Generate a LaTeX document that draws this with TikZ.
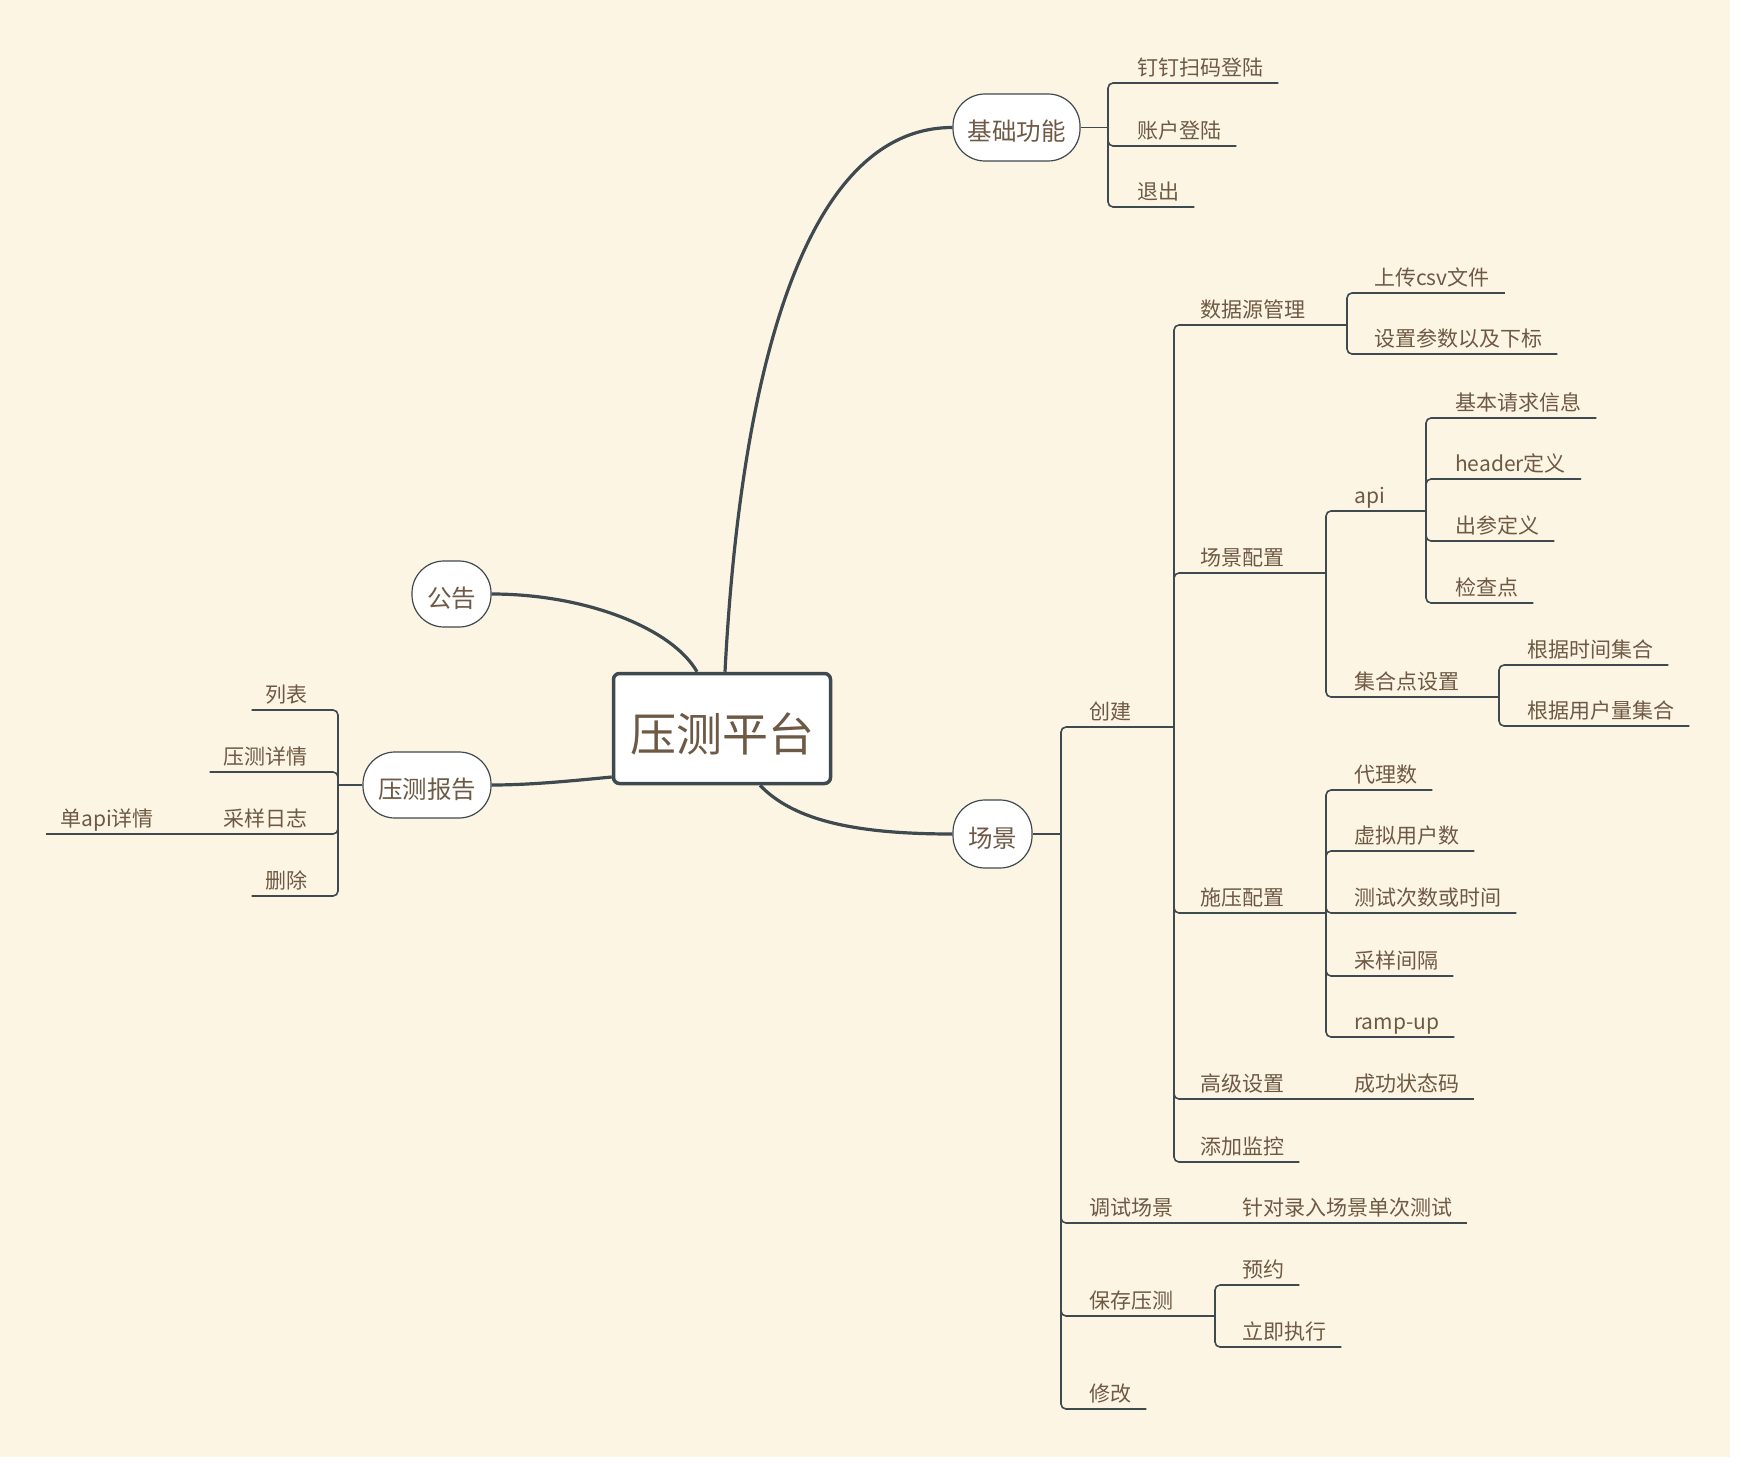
\documentclass[tikz,border=0pt]{standalone}
\usepackage{fontspec}
\setmainfont{Noto Sans CJK SC}
\usetikzlibrary{calc}
\definecolor{bgc}{HTML}{FDF5E3}
\definecolor{txt}{HTML}{6E5944}
\definecolor{ln}{HTML}{3E4950}
\tikzset{
  leaf/.style={inner sep=0pt, text=txt, font=\fontsize{21}{26}\selectfont, anchor=base west},
  leafl/.style={leaf, anchor=base east},
  tree/.style={draw=ln, line width=1.6pt, rounded corners=5pt},
  topic/.style={draw=ln, line width=1.2pt, fill=white, text=txt, font=\fontsize{24.5}{29}\selectfont, rounded corners=32pt, inner sep=0pt, text height=30pt, text depth=3.2pt},
  mainline/.style={draw=ln, line width=3.2pt},
}
\newcommand{\myleaf}[5]{%
  \node[leaf] (#1) at (#2,#3-7.5) {#4};
  \draw[tree] (#5) |- ($(#1.base east)+(15,7.5)$);}
\newcommand{\myleafS}[5]{%
  \node[leaf] (#1) at (#2,#3-7.5) {#4};
  \draw[tree] (#5) -- ($(#1.base east)+(15,7.5)$);}
\newcommand{\mybranch}[6]{%
  \node[leaf] (#1) at (#2,#3-7.5) {#4};
  \coordinate (#1J) at (#6,#3);
  \draw[tree] (#5) |- (#1J);}
\newcommand{\myleafL}[5]{%
  \node[leafl] (#1) at (#2,#3-7.5) {#4};
  \draw[tree] (#5) |- ($(#1.base west)+(-14,7.5)$);}
\begin{document}
\begin{tikzpicture}[x=1pt,y=-1pt]
\fill[white] (0,0) rectangle (1742,1466);
\fill[bgc] (0,0) rectangle (1730,1457);
\useasboundingbox (0,0) rectangle (1742,1466);

% root
\node[draw=ln, line width=3.5pt, fill=white, rounded corners=6pt, minimum width=217pt, minimum height=110pt, text=txt, font=\fontsize{46}{55}\selectfont, inner sep=0pt, text height=52pt, text depth=5.3pt] (root) at (722,728.5) {压测平台};

% main topics
\node[topic, minimum width=127pt, minimum height=67pt] (jc) at (1016.5,127.5) {基础功能};
\node[topic, minimum width=79pt, minimum height=68pt] (cj) at (992.5,834) {场景};
\node[topic, minimum width=79pt, minimum height=66pt] (gg) at (451.5,594) {公告};
\node[topic, minimum width=128pt, minimum height=66pt] (bg) at (427,785) {压测报告};

% main curves
\draw[mainline] ([xshift=3pt]root.north) .. controls (738,420) and (790,127.5) .. (jc.west);
\draw[mainline] ([xshift=-25pt]root.north) .. controls (672,628) and (585,594) .. (gg.east);
\draw[mainline] ([yshift=-48.5pt]root.west) .. controls (570,781) and (530,785) .. (bg.east);
\draw[mainline] ([xshift=38pt]root.south) .. controls (795,822) and (860,834) .. (cj.west);

% 基础功能
\coordinate (jcJ) at (1108,127.5);
\draw[tree] (jc.east) -- (jcJ);
\myleaf{dd}{1137}{83}{钉钉扫码登陆}{jcJ}
\myleaf{zh}{1137}{146}{账户登陆}{jcJ}
\myleaf{tc}{1137}{207}{退出}{jcJ}

% 场景
\coordinate (cjJ) at (1061,834);
\draw[tree] (cj.east) -- (cjJ);
\mybranch{chj}{1089}{727}{创建}{cjJ}{1174}
  \mybranch{sjy}{1200}{325}{数据源管理}{chjJ}{1347}
    \myleaf{sc}{1374}{293}{上传csv文件}{sjyJ}
    \myleaf{szcs}{1374}{354}{设置参数以及下标}{sjyJ}
  \mybranch{cjpz}{1200}{573}{场景配置}{chjJ}{1326}
    \mybranch{api}{1354}{511}{api}{cjpzJ}{1426}
      \myleaf{jbqq}{1455}{418}{基本请求信息}{apiJ}
      \myleaf{hdr}{1455}{479}{header定义}{apiJ}
      \myleaf{ccdy}{1455}{541}{出参定义}{apiJ}
      \myleaf{jcd}{1455}{603}{检查点}{apiJ}
    \mybranch{jhd}{1354}{697}{集合点设置}{cjpzJ}{1499}
      \myleaf{sjjh}{1527}{665}{根据时间集合}{jhdJ}
      \myleaf{yhjh}{1527}{726}{根据用户量集合}{jhdJ}
  \mybranch{sypz}{1200}{913}{施压配置}{chjJ}{1326}
    \myleaf{dls}{1354}{790}{代理数}{sypzJ}
    \myleaf{xnyh}{1354}{851}{虚拟用户数}{sypzJ}
    \myleaf{cscs}{1354}{913}{测试次数或时间}{sypzJ}
    \myleaf{cyjg}{1354}{976}{采样间隔}{sypzJ}
    \myleaf{ramp}{1354}{1037}{ramp-up}{sypzJ}
  \mybranch{gjsz}{1200}{1099}{高级设置}{chjJ}{1326}
    \myleafS{cgzt}{1354}{1099}{成功状态码}{gjszJ}
  \myleaf{tjjk}{1200}{1162}{添加监控}{chjJ}
\mybranch{tscj}{1089}{1223}{调试场景}{cjJ}{1215}
  \myleafS{zdlr}{1242}{1223}{针对录入场景单次测试}{tscjJ}
\mybranch{bcyc}{1089}{1316}{保存压测}{cjJ}{1215}
  \myleaf{yy}{1242}{1285}{预约}{bcycJ}
  \myleaf{ljzx}{1242}{1347}{立即执行}{bcycJ}
\myleaf{xg}{1089}{1409}{修改}{cjJ}

% 压测报告
\coordinate (bgJ) at (338,785);
\draw[tree] (bg.west) -- (bgJ);
\myleafL{lb}{308}{710}{列表}{bgJ}
\myleafL{ycxq}{308}{772}{压测详情}{bgJ}
\node[leafl] (cyrz) at (308,834-7.5) {采样日志};
\coordinate (cyrzJ) at (210,834);
\draw[tree] (bgJ) |- (cyrzJ);
\node[leaf] (dapi) at (60,834-7.5) {单api详情};
\draw[tree] (cyrzJ) -- ($(dapi.base west)+(-14,7.5)$);
\myleafL{sc2}{308}{896}{删除}{bgJ}
\end{tikzpicture}
\end{document}
